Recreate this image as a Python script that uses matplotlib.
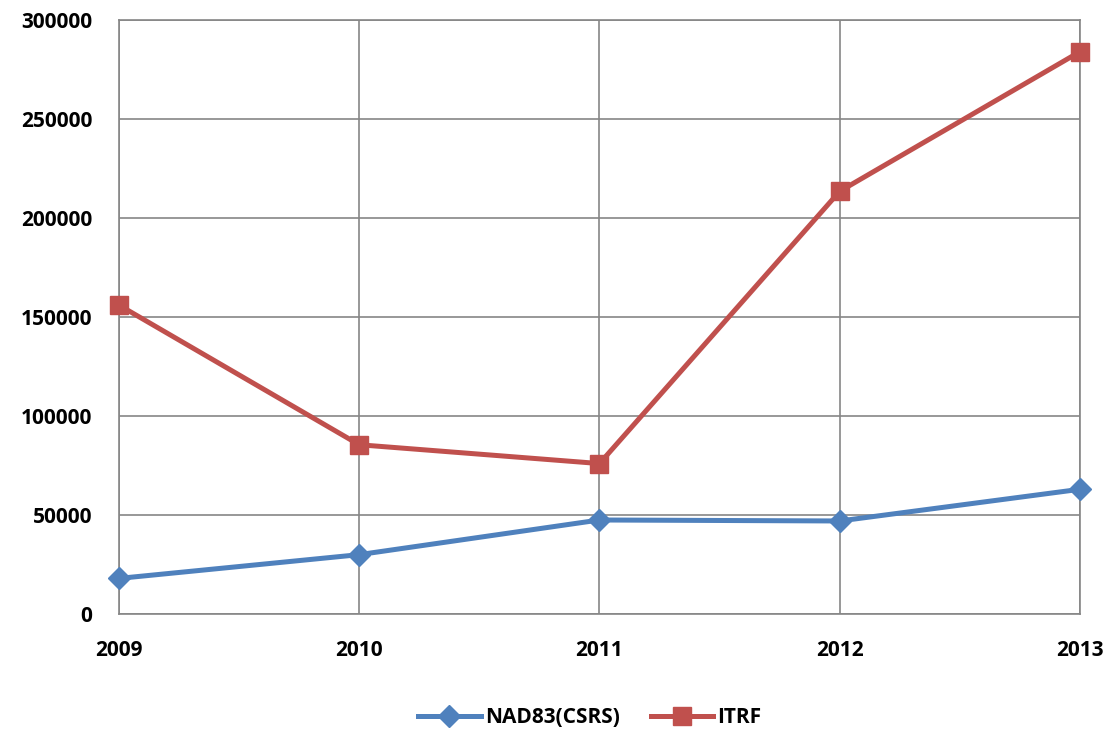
import matplotlib
matplotlib.use('Agg')
import matplotlib.pyplot as plt

# Yearly totals for the two reference frames
years = ['2009', '2010', '2011', '2012', '2013']
nad83 = [18000, 30000, 47500, 47000, 63000]
itrf = [156000, 85500, 76000, 213500, 284000]

plt.rcParams['font.family'] = ['Open Sans', 'DejaVu Sans']
plt.rcParams['font.weight'] = 'bold'

fig = plt.figure(figsize=(11.09, 7.31), dpi=100)
ax = fig.add_axes([0.1073, 0.16, 0.8665, 0.8126])

x = range(len(years))
ax.plot(x, nad83, color='#4F81BD', lw=3.6, marker='D', ms=11,
        label='NAD83(CSRS)', clip_on=False, zorder=3)
ax.plot(x, itrf, color='#C0504D', lw=3.6, marker='s', ms=13,
        label='ITRF', clip_on=False, zorder=3)

ax.set_xlim(0, len(years) - 1)
ax.set_ylim(0, 300000)
ax.set_yticks(range(0, 300001, 50000))
ax.set_xticks(list(x))
ax.set_xticklabels(years)

ax.grid(True, color='#868686', lw=1.2)
for s in ax.spines.values():
    s.set_color('#868686')
    s.set_linewidth(1.2)
ax.tick_params(length=0, labelsize=15)
ax.tick_params(axis='y', pad=19)
ax.tick_params(axis='x', pad=19)
for lab in ax.get_xticklabels() + ax.get_yticklabels():
    lab.set_fontweight('bold')

ax.legend(loc='center', bbox_to_anchor=(0.49, -0.175), ncol=2, frameon=False,
          prop={'weight': 'bold', 'size': 15}, handlelength=3,
          columnspacing=1.5, handletextpad=0.2)

fig.savefig('out.png', dpi=100)
